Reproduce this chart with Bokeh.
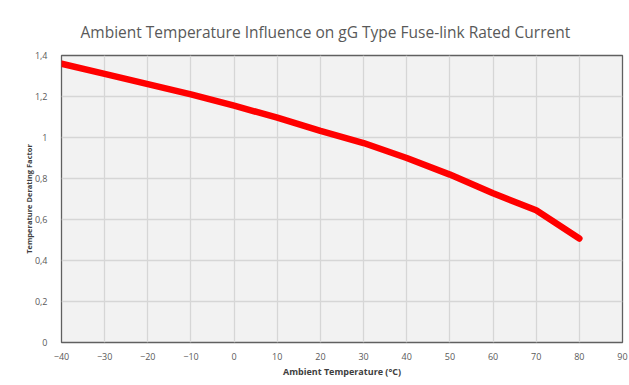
from bokeh.plotting import figure
from bokeh.models import Range1d, FixedTicker, CustomJSTickFormatter, ColumnDataSource
from bokeh.embed import file_html
from bokeh.resources import INLINE

# Data
temperature = [-40, -30, -20, -10, 0, 10, 20, 30, 40, 50, 60, 70, 80]
derating = [1.36, 1.31, 1.26, 1.21, 1.155, 1.097, 1.032, 0.973, 0.90, 0.819, 0.728, 0.645, 0.507]

x_ticks = [-40, -30, -20, -10, 0, 10, 20, 30, 40, 50, 60, 70, 80, 90]
y_ticks = [0, 0.2, 0.4, 0.6, 0.8, 1.0, 1.2, 1.4]
y_tick_labels = ["0", "0,2", "0,4", "0,6", "0,8", "1", "1,2", "1,4"]

title_text = "Ambient Temperature Influence on gG Type Fuse-link Rated Current"
x_label = "Ambient Temperature (\u00b0C)"
y_label = "Temperature Derating Factor"

FONT = "Open Sans"
GRAY = "#595959"

p = figure(width=629, height=385, output_backend="svg", toolbar_location=None,
           x_range=Range1d(-40, 90), y_range=Range1d(0, 1.4),
           min_border_left=61, min_border_right=7, min_border_top=55, min_border_bottom=43)

p.background_fill_color = "#f2f2f2"
p.border_fill_color = "white"
p.outline_line_color = "#606060"
p.outline_line_width = 1.3

p.title.text = title_text
p.title.align = "left"
p.title.text_font = FONT
p.title.text_font_size = "15.5px"
p.title.text_font_style = "normal"
p.title.text_color = GRAY
p.title.offset = 19
p.title.standoff = 26

src = ColumnDataSource(dict(x=temperature, y=derating))
p.line("x", "y", source=src, line_color="#ff0000", line_width=6.5, line_cap="round", line_join="round")

p.xaxis.ticker = FixedTicker(ticks=x_ticks)
p.yaxis.ticker = FixedTicker(ticks=y_ticks)
p.yaxis.formatter = CustomJSTickFormatter(args=dict(t=y_ticks, l=y_tick_labels), code="""
    for (let i = 0; i < t.length; i++) { if (Math.abs(t[i] - tick) < 1e-6) return l[i]; }
    return String(tick);
""")

for ax in (p.xaxis[0], p.yaxis[0]):
    ax.axis_line_color = None
    ax.major_tick_line_color = None
    ax.minor_tick_line_color = None
    ax.major_label_text_font = FONT
    ax.major_label_text_font_size = "9px"
    ax.major_label_text_color = GRAY
    ax.axis_label_text_font = FONT
    ax.axis_label_text_font_style = "bold"
    ax.axis_label_text_color = "#404040"

p.xaxis.axis_label_text_font_size = "9px"
p.yaxis.axis_label_text_font_size = "7.5px"
p.xaxis.axis_label = x_label
p.yaxis.axis_label = y_label
p.xaxis.major_label_standoff = 4
p.yaxis.major_label_standoff = 8
p.xaxis.axis_label_standoff = 2
p.yaxis.axis_label_standoff = -2

p.xgrid.grid_line_color = "#d6d6d6"
p.ygrid.grid_line_color = "#d6d6d6"
p.xgrid.grid_line_width = 1.3
p.ygrid.grid_line_width = 1.3

open("out.html", "w").write(file_html(p, INLINE))
